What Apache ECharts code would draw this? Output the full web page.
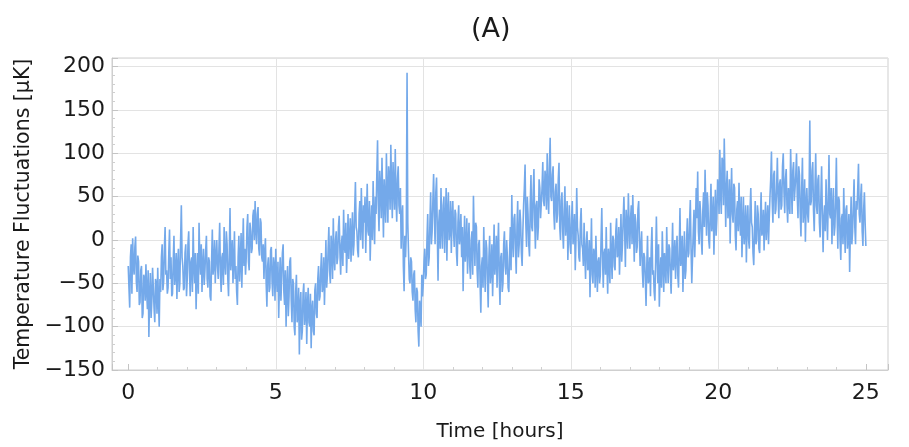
<!DOCTYPE html>
<html>
<head>
<meta charset="utf-8">
<script src="https://cdn.jsdelivr.net/npm/echarts@6/dist/echarts.min.js"></script>
<style>
  html, body { margin: 0; padding: 0; background: #fff; }
  #chart { width: 909px; height: 447px; }
</style>
</head>
<body>
<div id="chart"></div>
<script>
// time axis: one sample every 0.025 h starting at 0 h
const startHour = 0;
const stepHour = 0.025;

// temperature fluctuation [uK], one row per hour
const temperatureValues = [
  -30,-55,-78,-20,-5,-62,2,-30,-40,-8,4,-48,-60,-18,-25,-75,-72,-35,-30,-90,-85,-40,-45,-70,-28,-60,-80,-35,-112,-65,-38,-90,-70,-32,-30,-78,-95,-45,-50,-85,
  -32,-70,-100,-45,-60,-20,-5,-58,-48,-10,15,-40,-35,-62,-55,-15,12,-45,-20,-65,-62,-25,5,-52,-40,-15,-68,-30,-10,-60,-50,0,40,-20,-30,-58,-55,-15,-5,-65,
  -45,-5,10,-35,-65,-25,-20,-60,15,-30,-50,-15,-80,-40,-15,-62,20,-20,-40,-5,-60,-30,-10,-52,-35,-12,5,-45,-55,-20,-25,-65,-70,-25,12,-40,-30,0,-50,-20,
  0,-30,-45,-10,20,-40,-60,-20,-15,-52,15,-25,-40,10,-5,-45,-65,-15,37,-35,-20,0,-50,-25,10,-45,-30,-60,-75,-20,5,-48,-25,8,-55,-15,25,-30,-10,-40,
  -20,15,30,-25,-35,20,10,-15,-10,28,35,0,45,12,-5,30,38,-10,-18,25,20,-20,-25,-5,-45,-15,2,-50,-77,-30,-20,-60,-55,-12,-8,-48,-65,-20,-30,-70,
  -10,-45,-60,-25,-90,-50,-20,-70,-45,-15,-5,-60,-75,-35,-100,-55,-30,-88,-65,-25,-20,-70,-95,-45,-50,-100,-110,-60,-40,-95,-85,-55,-132,-75,-60,-115,-105,-62,-50,-98,
  -85,-60,-120,-75,-55,-95,-100,-62,-125,-80,-70,-105,-110,-58,-50,-85,-90,-45,-30,-70,-65,-35,-15,-60,-55,-20,-75,-40,0,-55,-40,-10,15,-35,-50,5,-10,-45,25,-20,
  -35,0,10,-28,-20,15,28,-15,-40,-5,5,-30,35,-8,-15,20,-38,-10,30,-22,0,25,-25,5,32,-18,-5,35,67,15,10,-12,-20,30,45,0,60,20,-10,40,
  20,50,-15,30,65,10,5,45,-24,15,40,0,68,25,-5,50,30,75,115,40,10,80,60,25,95,50,3,70,45,20,100,55,20,85,70,35,110,60,25,90,
  60,35,105,50,21,70,85,40,30,60,-10,25,40,-30,-59,5,-20,10,193,20,-15,-45,-50,-20,-25,-60,-70,-40,-35,-80,-95,-55,-60,-105,-123,-70,-80,-100,-40,-65,
  -50,-25,-10,-45,-40,0,30,-30,-20,20,55,-5,10,45,76,30,-5,55,72,10,-47,20,35,-10,60,15,-10,40,50,-15,20,60,-24,30,55,0,10,45,-15,25,
  45,10,-8,35,30,-15,-30,20,40,-5,5,30,-20,15,-59,-10,28,-25,-10,25,-39,-5,20,-30,-45,0,10,-40,51,5,-30,20,15,-35,-55,-5,0,-50,-84,-30,
  -20,-55,15,-30,-60,0,-10,-45,-78,-20,5,-50,-35,-5,-65,-25,18,-40,-25,5,-55,-10,20,-45,-75,-20,-15,-60,-50,-5,10,-30,-40,0,-20,-55,-60,-15,15,-35,
  52,0,-20,25,30,-10,-39,15,45,-20,-5,35,20,-15,-30,10,40,60,87,20,-8,50,30,-5,-19,40,75,15,10,55,82,25,-10,40,45,0,15,70,60,25,
  25,60,90,45,39,80,70,35,100,55,30,85,118,50,45,75,85,30,12,55,65,20,30,70,89,15,0,45,55,10,-10,35,62,5,20,45,-23,10,40,-5,
  -16,25,45,-5,10,30,-35,0,60,15,5,-20,-25,20,37,-5,-10,-30,20,-15,-45,-5,10,-35,-30,0,-66,-20,25,-40,-50,-10,-15,-55,5,-30,-60,-25,-20,-50,
  -40,0,37,-20,-55,-15,-10,-40,15,-30,-62,-10,-25,-50,20,-20,-45,5,0,-30,-35,10,25,-20,-15,15,-40,-5,30,-25,-5,25,50,10,-31,35,15,-10,54,20,
  -10,25,40,-5,52,15,-25,30,20,-15,-8,35,45,0,-30,-5,10,-35,-55,-15,-20,-45,-76,-30,5,-50,-45,-20,-65,-10,15,-40,-35,-60,-70,-25,27,-20,-50,-5,
  -77,-40,-20,-55,10,-25,-60,-15,-30,-50,15,-25,-50,-5,-10,-40,-62,-20,20,-35,-25,0,-45,-15,5,-40,-55,-10,37,-30,-20,5,-60,-25,10,-45,-35,0,25,-20,
  -15,20,46,-10,-50,-20,10,35,-20,15,60,25,79,10,-5,45,30,0,-17,35,55,15,81,40,5,55,40,0,-10,30,65,10,20,50,-17,25,58,5,25,70,
  60,30,104,55,30,95,90,40,117,70,15,60,80,25,35,70,-4,45,83,30,20,65,60,5,-12,35,45,10,66,25,5,50,-20,15,50,-5,10,40,-26,20,
  40,0,-10,35,60,20,15,-15,-29,10,45,-5,0,40,30,-10,-15,25,55,5,10,35,-12,20,44,0,20,40,-5,25,50,70,102,45,20,75,80,30,35,60,
  95,50,25,65,70,35,40,85,100,55,31,70,82,40,20,60,60,30,105,65,30,80,90,45,45,75,100,50,25,85,75,30,4,60,95,20,35,70,-2,40,
  60,30,20,50,138,40,45,80,90,35,10,60,100,40,30,70,75,20,3,50,85,30,-14,25,40,10,70,35,0,45,98,30,25,60,-5,35,60,5,15,45,
  95,30,-10,50,45,0,-23,25,30,-5,60,15,-15,35,40,-10,5,30,-37,10,50,-5,10,40,70,15,-5,45,35,60,88,30,20,50,65,10,-7,35,55,20,
  -7
];

const yRange = { min: -150, max: 210 };
const xRange = { min: -0.55, max: 25.75 };
const gridHours = [5, 10, 15, 20];

const seriesData = temperatureValues.map((v, i) => [+(startHour + i * stepHour).toFixed(3), v]);

const chart = echarts.init(document.getElementById('chart'));
const textColor = '#1a1a1a';
const fontFamily = 'DejaVu Sans';
const options = {
  animation: false,
  backgroundColor: '#fff',
  title: {
    text: '(A)',
    left: 466,
    top: 11,
    textStyle: { fontFamily, fontSize: 27, fontWeight: 'normal', color: textColor },
  },
  grid: {
    left: 112,
    right: 21,
    top: 58,
    bottom: 77,
    show: true,
    borderColor: '#cfcfcf',
    borderWidth: 1,
  },
  xAxis: {
    type: 'value',
    min: xRange.min,
    max: xRange.max,
    splitNumber: 5,
    name: 'Time [hours]',
    nameLocation: 'middle',
    nameGap: 52,
    nameTextStyle: { fontFamily, fontSize: 20, color: textColor },
    axisLine: { onZero: false, lineStyle: { color: '#cfcfcf' } },
    axisTick: { inside: true, length: 6, lineStyle: { color: '#c4c4c4' } },
    minorTick: { show: true, splitNumber: 5, length: 3, lineStyle: { color: '#cfcfcf' } },
    axisLabel: {
      showMinLabel: false,
      showMaxLabel: false,
      margin: 12,
      fontFamily,
      fontSize: 22,
      color: textColor,
    },
    splitLine: { show: false },
  },
  yAxis: {
    type: 'value',
    min: yRange.min,
    max: yRange.max,
    splitNumber: 7,
    name: 'Temperature Fluctuations [\u03bcK]',
    nameLocation: 'middle',
    nameGap: 73,
    nameTextStyle: { fontFamily, fontSize: 20.5, color: textColor },
    axisLine: { show: true, onZero: false, lineStyle: { color: '#cfcfcf' } },
    axisTick: { show: true, inside: true, length: 6, lineStyle: { color: '#c4c4c4' } },
    minorTick: { show: true, splitNumber: 5, length: 3, lineStyle: { color: '#cfcfcf' } },
    axisLabel: {
      showMaxLabel: false,
      margin: 7,
      fontFamily,
      fontSize: 22,
      color: textColor,
      formatter: (v) => (v < 0 ? '\u2212' + Math.abs(v) : String(v)),
    },
    splitLine: { show: true, lineStyle: { color: '#e3e3e3' } },
  },
  series: [
    {
      type: 'line',
      data: seriesData,
      showSymbol: false,
      lineStyle: { color: '#74a9ea', width: 1.6 },
      z: 3,
      markLine: {
        silent: true,
        symbol: 'none',
        label: { show: false },
        lineStyle: { color: '#e3e3e3', type: 'solid', width: 1 },
        data: gridHours.map((h) => ({ xAxis: h })),
        z: 1,
      },
    },
  ],
};
chart.setOption(options);
</script>
</body>
</html>
